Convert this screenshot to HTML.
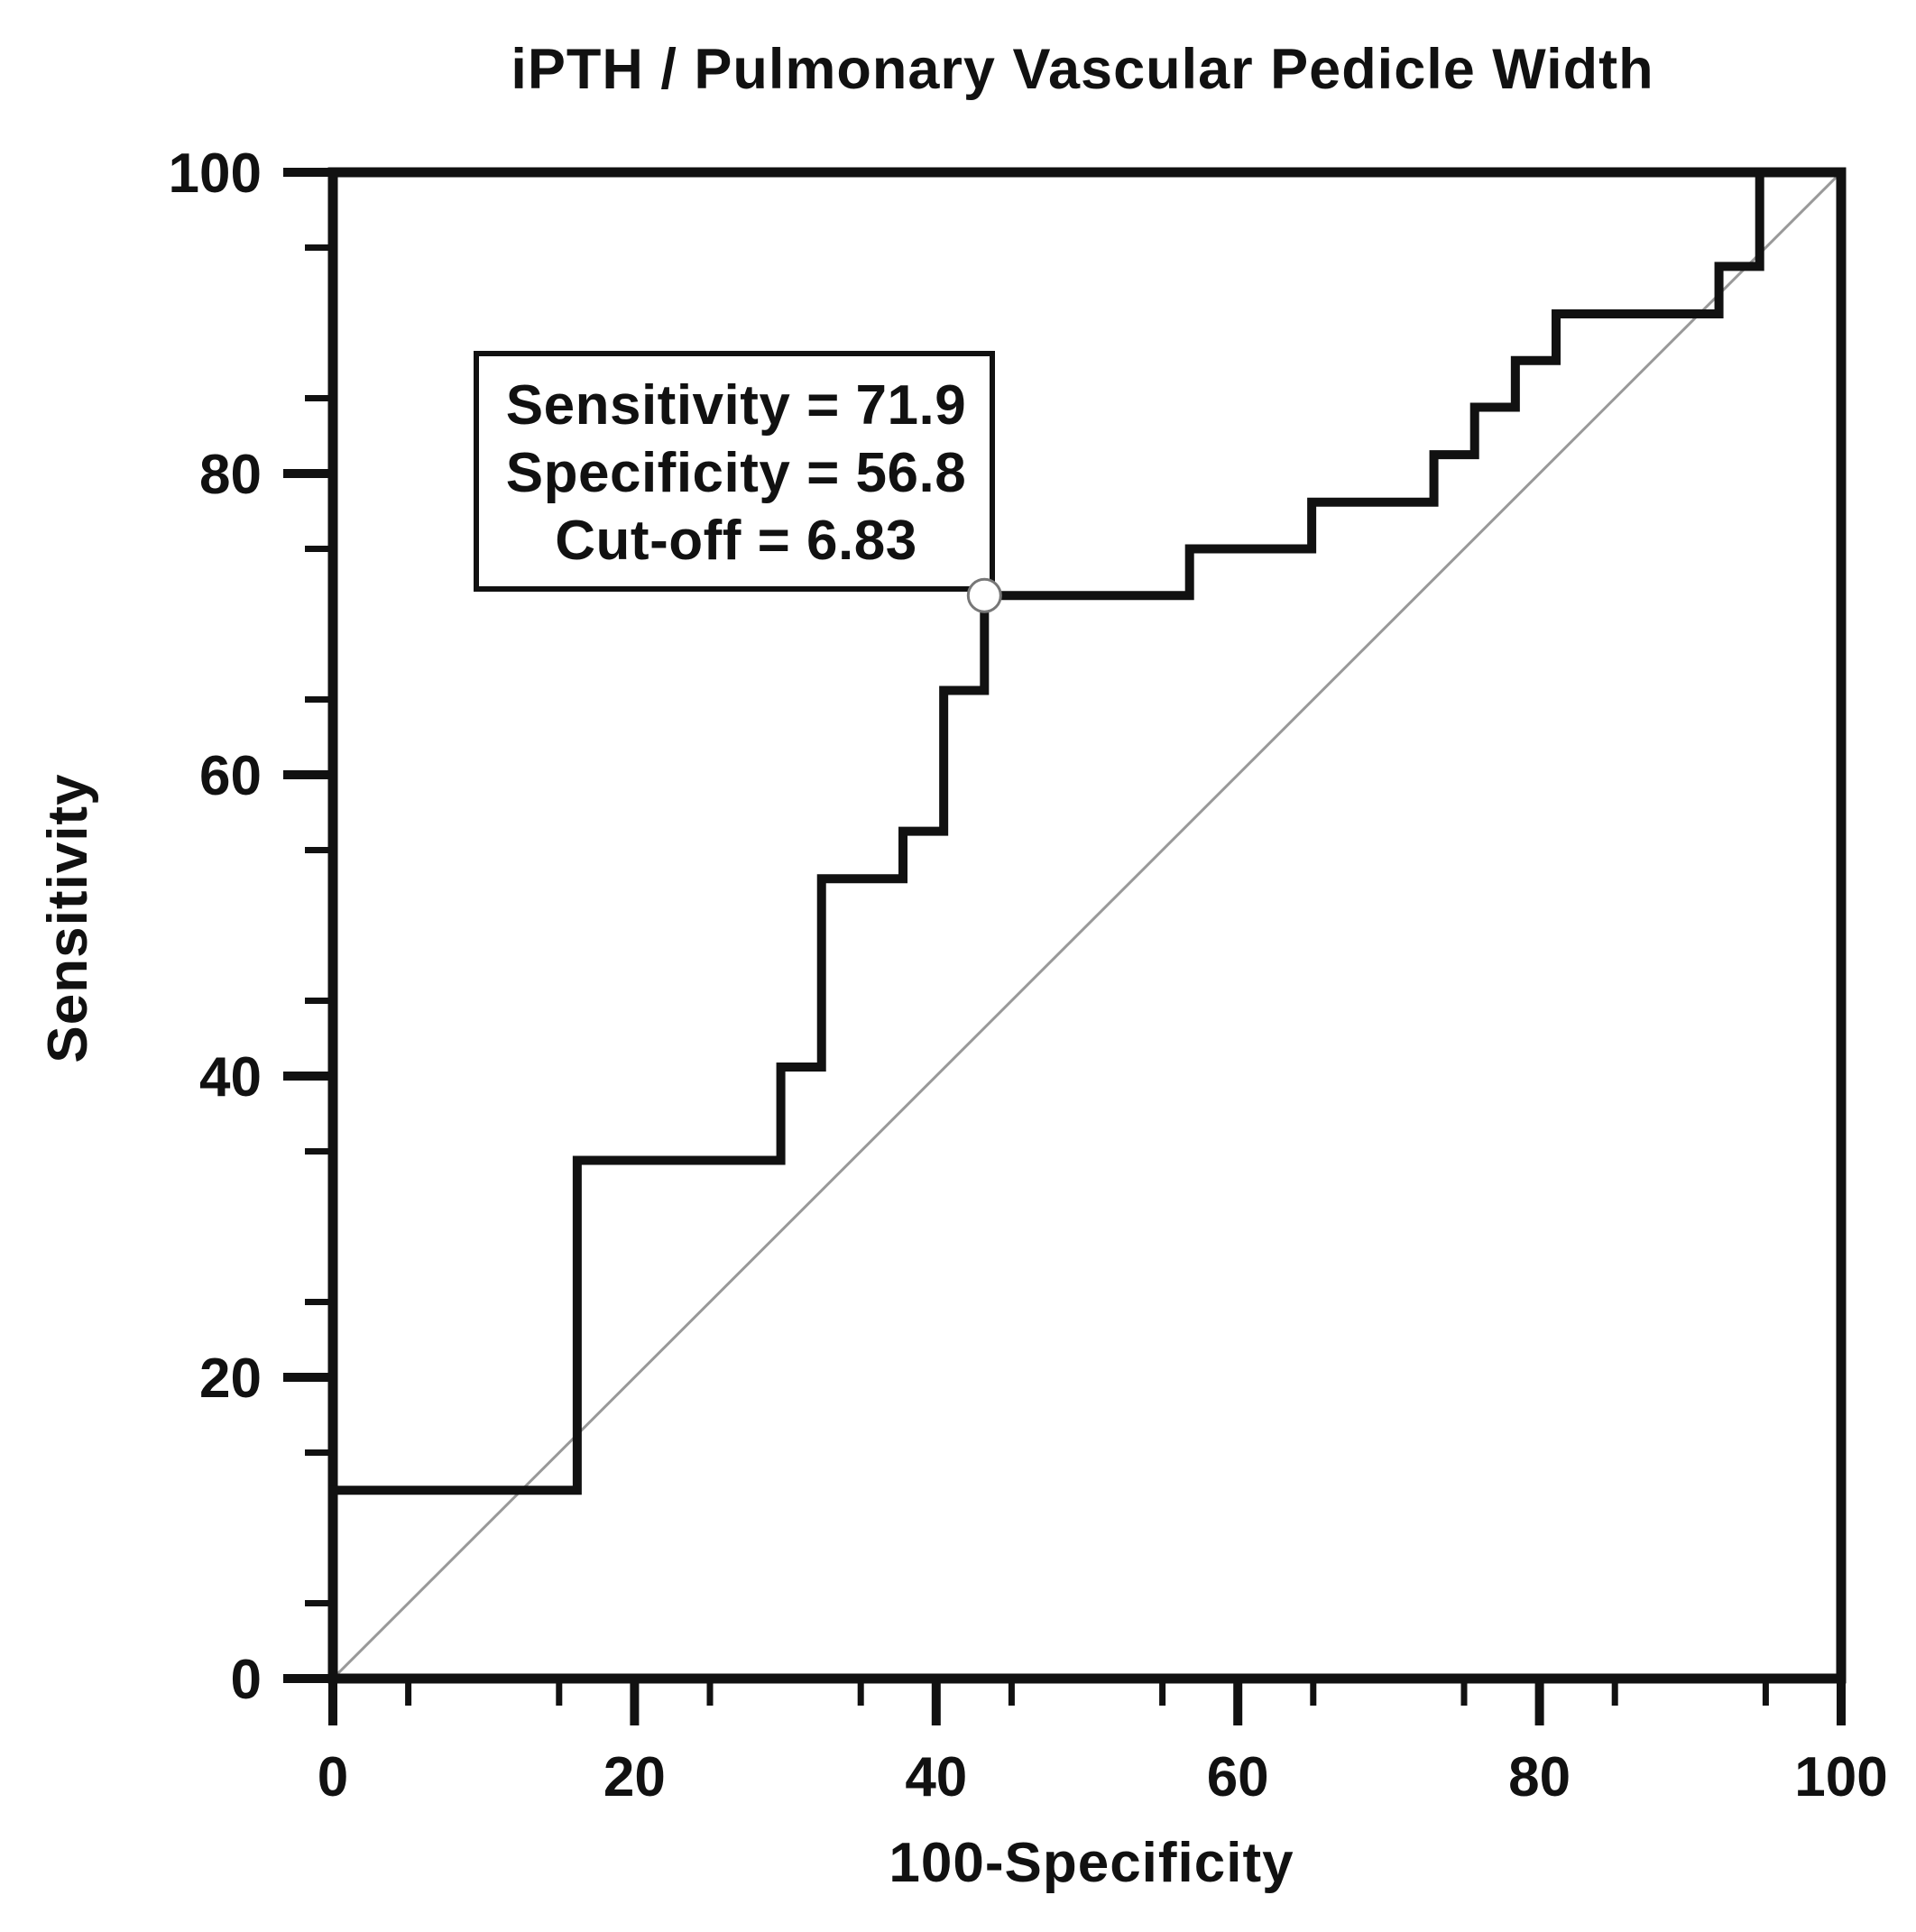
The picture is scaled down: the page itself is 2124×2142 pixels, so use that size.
<!DOCTYPE html>
<html><head><meta charset="utf-8"><style>
html,body{margin:0;padding:0;background:#fff;}
svg{display:block;}
text{font-family:"Liberation Sans",Arial,sans-serif;font-weight:bold;fill:#111;}
</style></head><body>
<svg id="chart" width="2124" height="2142" viewBox="0 0 2124 2142" xmlns="http://www.w3.org/2000/svg">
<rect width="2124" height="2142" fill="#fff"/>
<text x="1200" y="98" font-size="63" text-anchor="middle" letter-spacing="1">iPTH / Pulmonary Vascular Pedicle Width</text>
<g id="grid"></g>
<g id="marks"></g>
<g>
<rect x="528" y="392" width="572" height="261" fill="#fff" stroke="#111" stroke-width="6"/>
<text x="816" y="470" font-size="62" text-anchor="middle" letter-spacing="0.5">Sensitivity = 71.9</text>
<text x="816" y="545" font-size="62" text-anchor="middle" letter-spacing="0.5">Specificity = 56.8</text>
<text x="816" y="620" font-size="62" text-anchor="middle" letter-spacing="0.5">Cut-off = 6.83</text>
</g>
<text x="1210" y="2086" font-size="62" text-anchor="middle" letter-spacing="1">100-Specificity</text>
<text transform="translate(96,1018) rotate(-90)" font-size="62" text-anchor="middle" letter-spacing="1">Sensitivity</text>
</svg>
<script>
const rocX = [0, 0, 16.2, 16.2, 29.7, 29.7, 32.4, 32.4, 37.8, 37.8, 40.5, 40.5, 43.2, 43.2, 56.8, 56.8, 64.9, 64.9, 73.0, 73.0, 75.7, 75.7, 78.4, 78.4, 81.1, 81.1, 91.9, 91.9, 94.6, 94.6, 100];
const rocY = [0, 12.5, 12.5, 34.4, 34.4, 40.6, 40.6, 53.1, 53.1, 56.25, 56.25, 65.6, 65.6, 71.9, 71.9, 75, 75, 78.1, 78.1, 81.25, 81.25, 84.4, 84.4, 87.5, 87.5, 90.6, 90.6, 93.75, 93.75, 100, 100];
const cutoffPoint = [43.2, 71.9];
const xTickLabels = [0, 20, 40, 60, 80, 100];
const yTickLabels = [0, 20, 40, 60, 80, 100];

const X0 = 369, X1 = 2041, Y0 = 1861, Y1 = 191;
function sx(v){ return X0 + (X1 - X0) * v / 100; }
function sy(v){ return Y0 - (Y0 - Y1) * v / 100; }
const NS = "http://www.w3.org/2000/svg";
const grid = document.getElementById('grid');
const marks = document.getElementById('marks');
function mk(tag, attrs, parent){
  const e = document.createElementNS(NS, tag);
  for (const k in attrs) e.setAttribute(k, attrs[k]);
  parent.appendChild(e);
  return e;
}
for (let v = 5; v < 100; v += 10) {
  const t1 = mk('line', {x1: sx(v), x2: sx(v), y1: Y0, y2: Y0 + 30, stroke: '#111', 'stroke-width': 7}, grid);
  
  
  const t2 = mk('line', {x1: X0 - 31, x2: X0, y1: sy(v), y2: sy(v), stroke: '#111', 'stroke-width': 7}, grid);
  
  
}
xTickLabels.forEach(v => {
  const t = mk('line', {x1: sx(v), x2: sx(v), y1: Y0, y2: Y0 + 52, stroke: '#111', 'stroke-width': 10}, grid);
  
  
  const l = mk('text', {x: sx(v), y: 1991, 'font-size': 62, 'text-anchor': 'middle'}, grid);
  l.textContent = v;
  
  
});
yTickLabels.forEach(v => {
  const t = mk('line', {x1: X0 - 55, x2: X0, y1: sy(v), y2: sy(v), stroke: '#111', 'stroke-width': 10}, grid);
  
  
  const l = mk('text', {x: 290, y: sy(v) + 22, 'font-size': 62, 'text-anchor': 'end'}, grid);
  l.textContent = v;
  
  
});
const diag = mk('line', {x1: sx(0), y1: sy(0), x2: sx(100), y2: sy(100), stroke: '#999', 'stroke-width': 3}, marks);


const frame = mk('rect', {x: X0, y: Y1, width: X1 - X0, height: Y0 - Y1, fill: 'none', stroke: '#111', 'stroke-width': 11}, marks);


let d = '';
rocX.forEach((v, i) => { d += (i ? 'L' : 'M') + sx(v) + ' ' + sy(rocY[i]) + ' '; });
const curve = mk('path', {d: d, fill: 'none', stroke: '#111', 'stroke-width': 10, 'stroke-linejoin': 'miter'}, marks);


const pt = mk('circle', {cx: sx(cutoffPoint[0]), cy: sy(cutoffPoint[1]), r: 18, fill: '#fff', stroke: '#777', 'stroke-width': 3}, document.getElementById('chart'));


</script>
</body></html>
